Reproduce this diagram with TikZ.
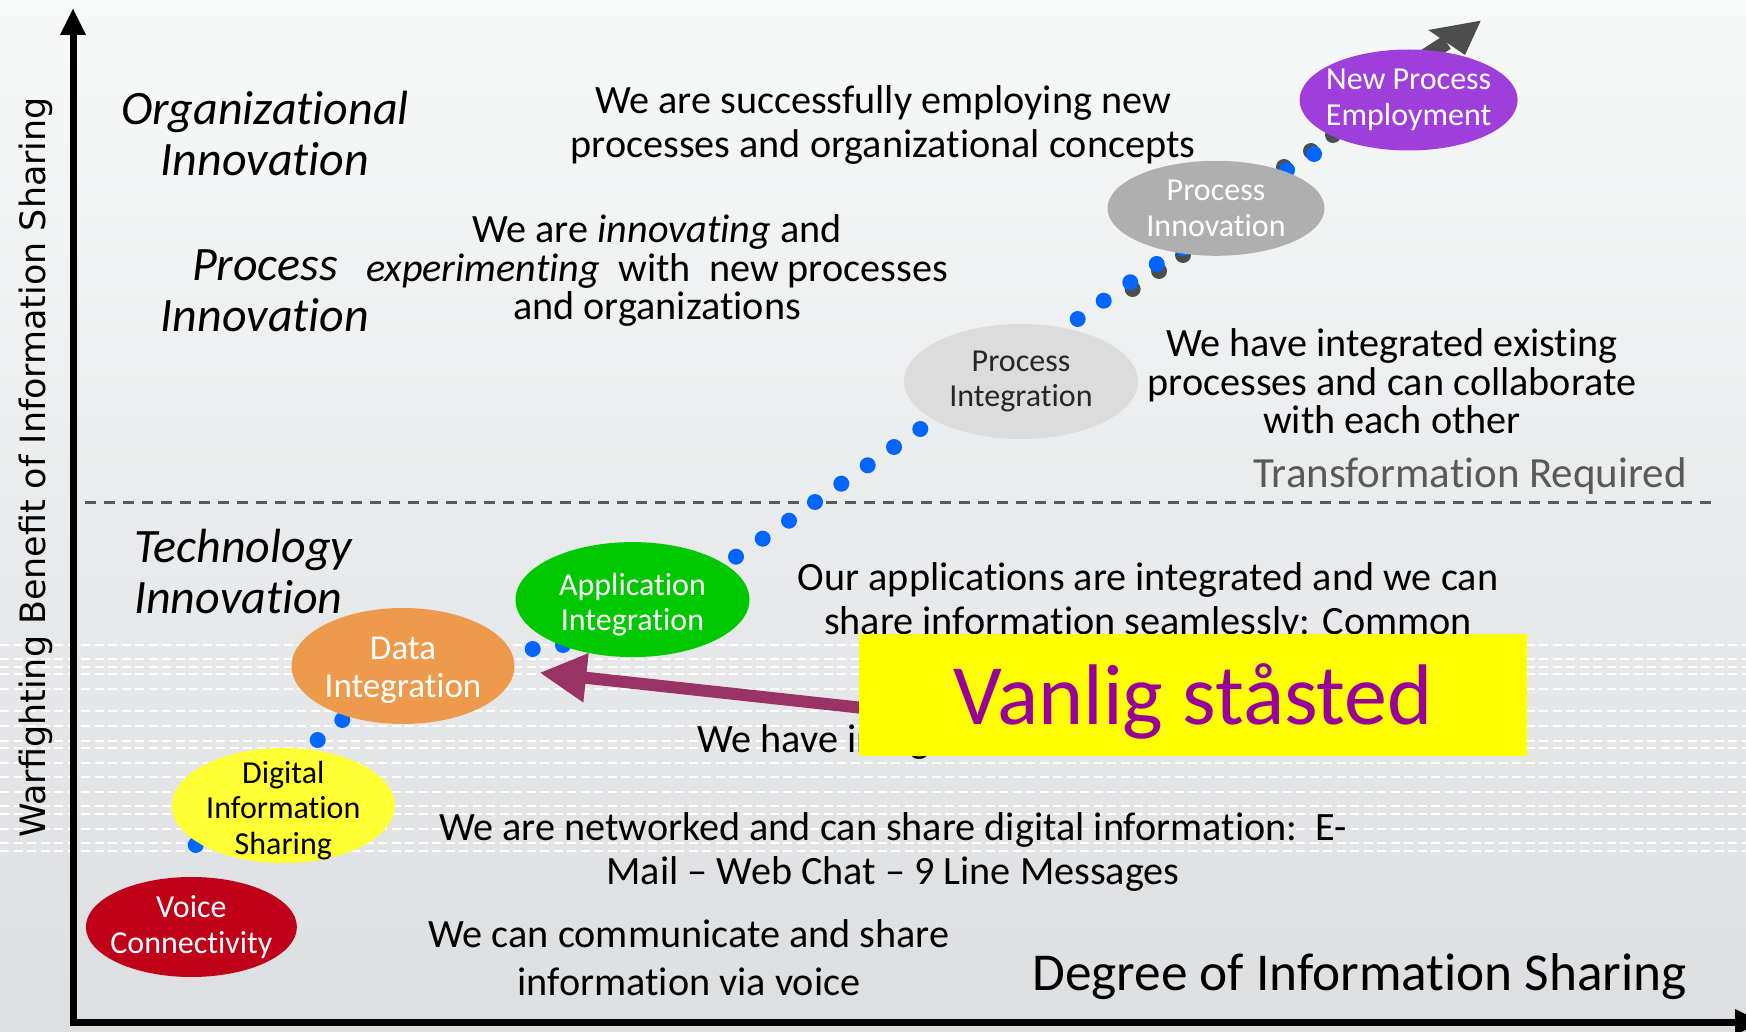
\documentclass[tikz,border=0pt]{standalone}
\usepackage{fontspec}
\setmainfont{Carlito}[Ligatures=NoCommon]
\newfontfamily\axisfont{DejaVu Sans}
\usetikzlibrary{arrows.meta,shapes.geometric}
\definecolor{bgtop}{HTML}{F7F8F8}
\definecolor{bgmid}{HTML}{ECEDED}
\definecolor{bgbot}{HTML}{DDDEE0}
\definecolor{dotblue}{HTML}{0066FF}
\definecolor{shadowgray}{HTML}{4D4D4D}
\definecolor{vcred}{HTML}{C00018}
\definecolor{diyellow}{HTML}{FFFF33}
\definecolor{dorange}{HTML}{EE9A4D}
\definecolor{agreen}{HTML}{00C800}
\definecolor{pigray}{HTML}{DCDCDC}
\definecolor{pitext}{HTML}{262626}
\definecolor{pngray}{HTML}{AFAFAF}
\definecolor{nppurple}{HTML}{9E3FDC}
\definecolor{magarrow}{HTML}{993366}
\definecolor{vboxyellow}{HTML}{FFFF00}
\definecolor{vtext}{HTML}{990099}
\definecolor{sepgray}{HTML}{595959}
\newcommand\stagestrut{\rule{0pt}{32pt}}
\tikzset{
  axisline/.style={line width=7pt, black, -{Triangle[length=27pt,width=24pt]}},
  whitedash/.style={white, line width=2.2pt, dash pattern=on 9pt off 4.5pt},
  sepline/.style={sepgray, line width=3pt, dash pattern=on 11pt off 8pt},
  body/.style={font=\fontsize{40.2}{41}\selectfont, align=center, inner sep=0pt},
  ital/.style={font=\fontsize{48}{51}\selectfont\itshape, align=center, inner sep=0pt},
  stage/.style={ellipse, inner sep=-30pt, align=center, font=\fontsize{32}{35.5}\selectfont},
  bluedot/.style={fill=dotblue},
  shadowdot/.style={fill=shadowgray},
  toparrow/.style={shadowgray, line width=15pt},
  toparrowhead/.style={fill=shadowgray},
  pointer/.style={magarrow, line width=12pt, -{Triangle[length=47pt,width=46pt]}},
  vanligbox/.style={rectangle, fill=vboxyellow, minimum width=668pt, minimum height=122pt,
    text=vtext, font=\fontsize{86}{90}\selectfont, text height=58pt, text depth=0pt, inner sep=0pt}
}
\begin{document}
\begin{tikzpicture}[x=1pt,y=-1pt]
\useasboundingbox (0,0) rectangle (1746,1032);
\shade[top color=bgtop, middle color=bgmid, bottom color=bgbot] (0,0) rectangle (1746,1032);
% white dashed texture
\foreach \yy in {645,659,667,674,689,711,726,741,748,763,777,792,806,814,829,843,851}
  \draw[whitedash] (0,\yy) -- (1746,\yy);
% transformation separator
\coordinate (sepL) at (85,502);
\coordinate (sepR) at (1715,502);
\draw[sepline] (sepL) -- (sepR);
% axes
\coordinate (origin) at (73,1022);
\coordinate (ytip) at (73,8);
\coordinate (xtip) at (1762,1022);
\draw[axisline, line cap=rect] (origin) -- (ytip);
\draw[axisline, line cap=rect] (origin) -- (xtip);
\node[font=\axisfont\fontsize{34.9}{36}\selectfont, rotate=90, anchor=base, inner sep=0pt] (ylabel) at (45,467.5) {Warfighting Benefit of Information Sharing};
% texts
\node[ital] (orginn) at (265,133.5) {Organizational\\Innovation};
\node[ital] (procinn) at (265,291) {Process\\Innovation};
\node[ital, align=left, anchor=west] (techinn) at (134,571.5) {Technology\\Innovation};
\node[body, font=\fontsize{40.2}{44}\selectfont] (t1) at (883,125.5) {We are successfully employing new\\processes and organizational concepts};
\node[body, font=\fontsize{40.2}{38.5}\selectfont] (t2) at (657,270.5) {We are \textit{innovating} and\\\textit{experimenting}\ \ with\ \ new processes\\and organizations};
\node[body, font=\fontsize{40.2}{38.5}\selectfont] (t3) at (1392,381.5) {We have integrated existing\\processes and can collaborate\\with each other};
\node[body, text=sepgray, font=\fontsize{43}{44}\selectfont, anchor=base east] (t4) at (1687,487) {Transformation Required};
\node[body, font=\fontsize{40.2}{44}\selectfont] (t5) at (1148,602) {Our applications are integrated and we can\\share information seamlessly: Common};
\node[body, anchor=base west] (t6) at (697,752) {We have integrated data};
\node[body, font=\fontsize{40.2}{44}\selectfont] (t7) at (893,852) {We are networked and can share digital information:\ \ E-\\Mail – Web Chat – 9 Line Messages};
\node[body, font=\fontsize{40.2}{48}\selectfont] (t8) at (689,958) {We can communicate and share\\information via voice};
\node[body, font=\fontsize{53.3}{55}\selectfont, anchor=base east] (t9) at (1687,990) {Degree of Information Sharing};
% dotted progression path (dots with shadows)
\foreach \px/\py in {1132.6/289, 1159/271, 1183/255, 1284/167, 1311/151, 1333/135}
  \fill[shadowdot] (\px,\py) circle (8);
\foreach \px/\py in {195.7/845, 317.7/740, 342.3/720, 532.7/649, 563/645,
  736/556.7, 762.7/538.7, 789/520.7, 815/502, 841.3/483.7, 867.7/465.3, 894/447, 920.3/429,
  1077.7/319, 1103.7/300.7, 1130.3/282.3, 1156.7/264, 1182.7/248.3, 1287/170, 1314/154}
  \fill[bluedot] (\px,\py) circle (8);
\coordinate (arrtail) at (1396.5,74.7);
\coordinate (arrbase) at (1446.7,42.5);
\coordinate (arrL) at (1428.3,30);
\coordinate (arrR) at (1465,55);
\coordinate (arrtip) at (1480.7,20.7);
\draw[toparrow] (arrtail) -- (arrbase);
\fill[toparrowhead] (arrL) -- (arrtip) -- (arrR) -- cycle;
% stages
\node[stage, fill=vcred, text=white, minimum width=211pt, minimum height=100pt] (voice) at (191.4,927) {Voice\\Connectivity};
\node[stage, fill=diyellow, text=black, minimum width=223pt, minimum height=115pt] (digital) at (283.3,805.5) {\stagestrut Digital\\Information\\Sharing};
\node[stage, fill=dorange, text=white, minimum width=223pt, minimum height=116pt, font=\fontsize{35}{38}\selectfont] (data) at (403,666) {\stagestrut Data\\Integration};
\node[stage, fill=agreen, text=white, minimum width=234pt, minimum height=115pt] (app) at (632.5,599.6) {\stagestrut Application\\Integration};
\node[stage, fill=pigray, text=pitext, minimum width=234pt, minimum height=115pt] (procint) at (1021,381.5) {Process\\Integration};
\node[stage, fill=pngray, text=white, minimum width=217pt, minimum height=95pt] (procinno) at (1216,208.3) {Process\\Innovation};
\node[stage, fill=nppurple, text=white, minimum width=218pt, minimum height=101pt] (newproc) at (1408.6,100) {New Process\\Employment};
% pointer from the overlay box
\coordinate (ptail) at (900,712);
\coordinate (ptip) at (539.3,672.7);
\draw[pointer] (ptail) -- (ptip);
\node[vanligbox] (vanlig) at (1193,695) {Vanlig ståsted};
\end{tikzpicture}
\end{document}
